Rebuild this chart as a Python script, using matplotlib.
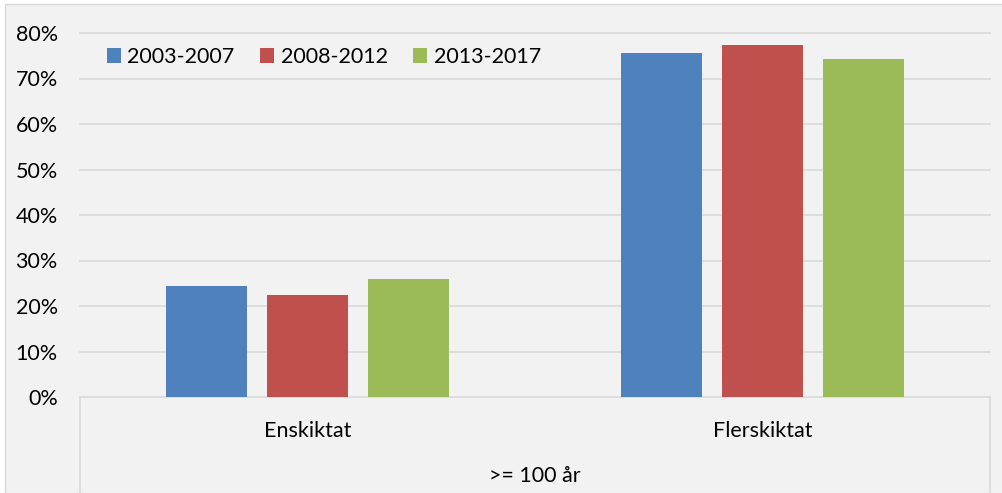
import numpy as np
import matplotlib
matplotlib.use('Agg')
import matplotlib.pyplot as plt
from matplotlib.patches import Rectangle

plt.rcParams['font.family'] = ['Lato', 'DejaVu Sans']

categories = ['Enskiktat', 'Flerskiktat']
group_label = '>= 100 år'
series_names = ['2003-2007', '2008-2012', '2013-2017']
values = {
    '2003-2007': [24.3, 75.5],
    '2008-2012': [22.5, 77.3],
    '2013-2017': [25.9, 74.2],
}
colors = ['#4F81BD', '#C0504D', '#9BBB59']
yticks = [0, 10, 20, 30, 40, 50, 60, 70, 80]

bg = '#F2F2F2'
grid_c = '#D9D9D9'
fs = 15.5

fig = plt.figure(figsize=(10.03, 4.93), dpi=100, facecolor='white')
# chart area background with thin border
fig.patches.append(Rectangle((5 / 1003, 0), 1, 1 - 4 / 493, transform=fig.transFigure,
                             facecolor=bg, edgecolor=grid_c, linewidth=1, zorder=-10))

left, right = 80 / 1003, 990 / 1003
bottom, top = 1 - 397 / 493, 1 - 33 / 493
ax = fig.add_axes([left, bottom, right - left, top - bottom])
ax.set_facecolor(bg)

x = np.arange(len(categories))
width = 0.176
step = 0.222
for i, name in enumerate(series_names):
    ax.bar(x + (i - 1) * step, values[name], width, color=colors[i], label=name, zorder=3)

ax.set_xlim(-0.5, 1.5)
ax.set_ylim(0, 80)
ax.set_yticks(yticks)
ax.set_yticklabels([f'{t}%' for t in yticks], fontsize=fs)
for t in yticks:
    ax.axhline(t, color=grid_c, linewidth=1.2, zorder=1, clip_on=False)
for s in ax.spines.values():
    s.set_visible(False)
ax.tick_params(axis='y', length=0, pad=16)
ax.tick_params(axis='x', length=0)
ax.set_xticks([])

# multi-level category box
h = 96 / 364
ax.plot([0, 0], [0, -h], transform=ax.transAxes, color=grid_c, lw=1.2, clip_on=False)
ax.plot([1, 1], [0, -h], transform=ax.transAxes, color=grid_c, lw=1.2, clip_on=False)
for xi, c in zip(x, categories):
    ax.text(xi, -0.093, c, transform=ax.get_xaxis_transform(), ha='center', va='center', fontsize=fs)
ax.text(0.5, -0.217, group_label, transform=ax.transAxes, ha='center', va='center', fontsize=fs)

ax.legend(loc='upper left', bbox_to_anchor=(0.008, 1.015), ncol=3, frameon=False, fontsize=fs,
          handlelength=0.65, handleheight=0.65, handletextpad=0.3, columnspacing=1.2)

fig.savefig('out.png', dpi=100, facecolor=fig.get_facecolor())
